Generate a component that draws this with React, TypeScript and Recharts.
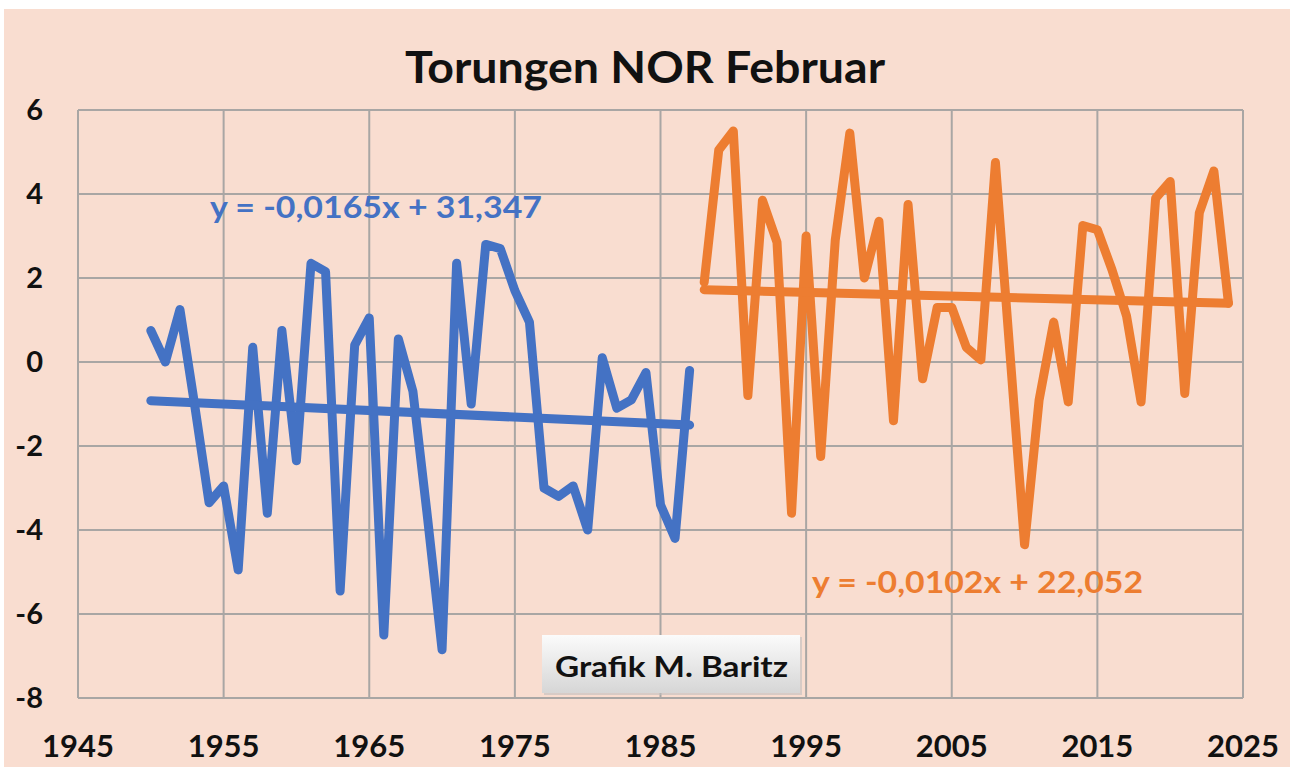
import React from 'react';
import { ComposedChart, Line, XAxis, YAxis, CartesianGrid } from 'recharts';

const blueStartYear = 1950;
const blueValues = [
  0.75, 0.0, 1.25, -1.0, -3.35, -2.95, -4.95, 0.35, -3.6, 0.75,
  -2.35, 2.35, 2.15, -5.45, 0.4, 1.05, -6.5, 0.55, -0.7, -3.7,
  -6.85, 2.35, -1.0, 2.8, 2.7, 1.7, 0.95, -3.0, -3.2, -2.95,
  -4.0, 0.1, -1.1, -0.9, -0.25, -3.4, -4.2, -0.2,
];
const orangeStartYear = 1988;
const orangeValues = [
  1.9, 5.05, 5.5, -0.8, 3.85, 2.85, -3.6, 3.0, -2.25, 2.9,
  5.45, 2.0, 3.35, -1.4, 3.75, -0.4, 1.3, 1.3, 0.35, 0.05,
  4.75, 0.2, -4.35, -0.9, 0.95, -0.95, 3.25, 3.15, 2.2, 1.1,
  -0.95, 3.9, 4.3, -0.75, 3.55, 4.55, 1.4,
];
const blueTrend = [
  { year: 1950, value: -0.92 },
  { year: 1987, value: -1.5 },
];
const orangeTrend = [
  { year: 1988, value: 1.72 },
  { year: 2024, value: 1.4 },
];
const xTicks = [1945, 1955, 1965, 1975, 1985, 1995, 2005, 2015, 2025];
const yTicks = [-8, -6, -4, -2, 0, 2, 4, 6];

const title = 'Torungen NOR Februar';
const blueEquation = 'y = -0,0165x + 31,347';
const orangeEquation = 'y = -0,0102x + 22,052';
const credit = 'Grafik M. Baritz';

const blueData = blueValues.map((value, i) => ({ year: blueStartYear + i, value }));
const orangeData = orangeValues.map((value, i) => ({ year: orangeStartYear + i, value }));

const BLUE = '#4472C4';
const ORANGE = '#ED7D31';
const BG = '#F9DDD0';
const GRID = '#A9A6A4';
const FONT = 'Lato, "Open Sans", sans-serif';

export default function App() {
  return (
    <div style={{ position: 'absolute', left: 0, top: 0, width: 1290, height: 767, background: '#FFFFFF', fontFamily: FONT }}>
      <div style={{ position: 'absolute', left: 4, top: 9, width: 1286, height: 758, background: BG }} />
      <div style={{ position: 'absolute', left: 0, top: 0 }}>
        <ComposedChart width={1290} height={767} margin={{ top: 110, right: 47, bottom: 39, left: 18 }}>
          <CartesianGrid stroke={GRID} strokeWidth={2} />
          <XAxis
            type="number"
            dataKey="year"
            domain={[1945, 2025]}
            ticks={xTicks}
            allowDataOverflow
            height={30}
            axisLine={false}
            tickLine={false}
            tickSize={0}
            tickMargin={37}
            tick={{ fill: '#111111', fontSize: 31, fontWeight: 700, fontFamily: FONT }}
          />
          <YAxis
            type="number"
            domain={[-8, 6]}
            ticks={yTicks}
            allowDataOverflow
            width={60}
            axisLine={false}
            tickLine={false}
            tickSize={0}
            tickMargin={35}
            tick={{ fill: '#111111', fontSize: 29, fontWeight: 700, fontFamily: FONT }}
          />
          <Line data={blueData} dataKey="value" stroke={BLUE} strokeWidth={9} dot={false} strokeLinejoin="round" strokeLinecap="round" isAnimationActive={false} />
          <Line data={blueTrend} dataKey="value" stroke={BLUE} strokeWidth={9} dot={false} strokeLinecap="round" isAnimationActive={false} />
          <Line data={orangeData} dataKey="value" stroke={ORANGE} strokeWidth={9} dot={false} strokeLinejoin="round" strokeLinecap="round" isAnimationActive={false} />
          <Line data={orangeTrend} dataKey="value" stroke={ORANGE} strokeWidth={9} dot={false} strokeLinecap="round" isAnimationActive={false} />
        </ComposedChart>
      </div>
      <svg width={1290} height={767} style={{ position: 'absolute', left: 0, top: 0, pointerEvents: 'none' }}>
        <defs>
          <linearGradient id="boxGrad" x1="0" y1="0" x2="0" y2="1">
            <stop offset="0%" stopColor="#FBFBFB" />
            <stop offset="100%" stopColor="#D6D6D6" />
          </linearGradient>
        </defs>
        <text x={405} y={83} textLength={480} lengthAdjust="spacingAndGlyphs" fontFamily={FONT} fontWeight={700} fontSize={44} fill="#111111">{title}</text>
        <text x={210} y={218} textLength={332} lengthAdjust="spacingAndGlyphs" fontFamily={FONT} fontWeight={700} fontSize={31} fill={BLUE}>{blueEquation}</text>
        <text x={812} y={593} textLength={331} lengthAdjust="spacingAndGlyphs" fontFamily={FONT} fontWeight={700} fontSize={31} fill={ORANGE}>{orangeEquation}</text>
        <rect x={544} y={637} width={258} height={58} fill="#BFBFBF" opacity={0.6} />
        <rect x={542} y={635} width={258} height={58} fill="url(#boxGrad)" />
        <text x={555} y={677} textLength={233} lengthAdjust="spacingAndGlyphs" fontFamily={FONT} fontWeight={700} fontSize={29} fill="#111111">{credit}</text>
      </svg>
    </div>
  );
}
